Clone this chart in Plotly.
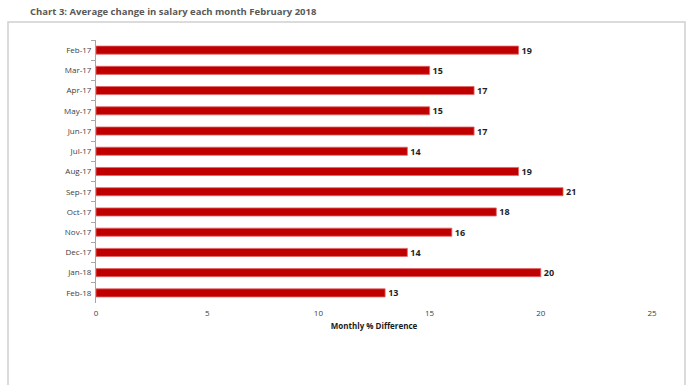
import plotly.graph_objects as go

months = ["Feb-17", "Mar-17", "Apr-17", "May-17", "Jun-17", "Jul-17", "Aug-17",
          "Sep-17", "Oct-17", "Nov-17", "Dec-17", "Jan-18", "Feb-18"]
values = [19, 15, 17, 15, 17, 14, 19, 21, 18, 16, 14, 20, 13]
x_ticks = [0, 5, 10, 15, 20, 25]

W, H = 696, 385
L, R, T, B = 96, 652, 40, 303
pw, ph = R - L, B - T

def px_x(x):
    return (x - L) / pw

def px_y(y):
    return (B - y) / ph

fig = go.Figure(go.Bar(
    x=values, y=months, orientation="h",
    marker=dict(color="#C00000", line=dict(color="#E06666", width=0.8)),
    text=values, textposition="outside", cliponaxis=False, constraintext="none",
    textfont=dict(family="Open Sans", size=9, color="#1f1f2a"),
    texttemplate="<b>%{text}</b>",
))

fig.update_layout(
    width=W, height=H,
    margin=dict(l=L, r=W - R, t=T, b=H - B),
    paper_bgcolor="white", plot_bgcolor="white",
    bargap=0.6, showlegend=False,
    font=dict(family="Open Sans", color="#404040"),
    xaxis=dict(range=[0, 25], tickvals=x_ticks, showgrid=False, zeroline=False,
               showline=False, ticks="", ticklabelstandoff=4,
               tickfont=dict(size=8, color="#404040"),
               title=dict(text="<b>Monthly % Difference</b>", font=dict(size=8, color="#1a1a1a"), standoff=6)),
    yaxis=dict(autorange="reversed", showgrid=False, zeroline=False,
               showline=True, linecolor="#A6A6A6", linewidth=1,
               ticks="outside", tickson="boundaries", ticklen=4, tickcolor="#A6A6A6",
               ticklabelstandoff=2,
               tickfont=dict(size=8, color="#404040")),
    shapes=[dict(type="rect", xref="paper", yref="paper",
                 x0=px_x(8), x1=px_x(685), y0=px_y(400), y1=px_y(22),
                 line=dict(color="#D0D0D0", width=1.5), fillcolor="rgba(0,0,0,0)", layer="below")],
    annotations=[dict(text="<b>Chart 3: Average change in salary each month February 2018</b>",
                      xref="paper", yref="paper", x=px_x(28), y=px_y(12),
                      xanchor="left", yanchor="middle", showarrow=False,
                      font=dict(family="Open Sans", size=9.5, color="#595959"))],
)

fig.write_html("out.html", config={"displayModeBar": False},
               post_script="document.body.style.margin='0';")
